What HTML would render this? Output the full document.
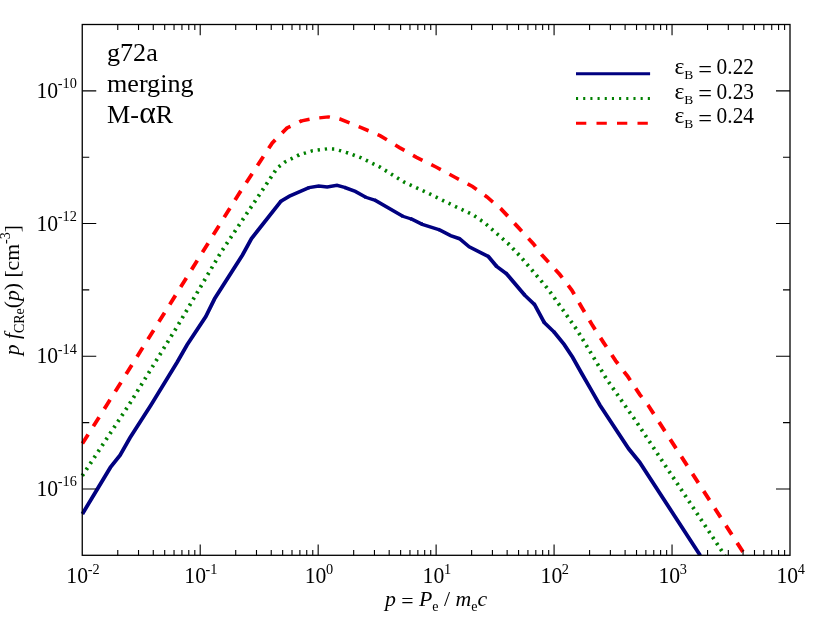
<!DOCTYPE html>
<html><head><meta charset="utf-8"><title>plot</title>
<style>
html,body{margin:0;padding:0;background:#fff;}
svg{display:block;opacity:0.999;will-change:transform;font-family:"Liberation Serif",serif;}
text{fill:#000;}
</style></head><body>
<svg width="822" height="617" viewBox="0 0 822 617">
<rect width="822" height="617" fill="#fff"/>
<defs><clipPath id="c"><rect x="74.25" y="24.5" width="715.75" height="531.1999999999999"/></clipPath></defs>
<g clip-path="url(#c)" fill="none"><g stroke="#000080" stroke-linejoin="miter" stroke-linecap="butt"><path d="M82.40,513.90 L110.40,467.40 L120.10,455.20 L130.00,437.80 L151.00,405.00 L177.30,362.00 L187.00,345.00 L205.80,316.50 L214.60,298.80 L242.50,255.00 L251.50,238.60 L281.00,201.10" stroke-width="3.8"/><path d="M280.38,201.89 L281.00,201.10 L289.50,196.20 L309.00,187.70" stroke-width="3.6"/><path d="M308.08,188.10 L309.00,187.70 L318.70,186.00 L327.20,187.00 L337.00,185.30 L345.50,187.70" stroke-width="3.4"/><path d="M344.54,187.43 L345.50,187.70 L355.30,191.40 L365.80,197.30" stroke-width="3.6"/><path d="M364.93,196.81 L365.80,197.30 L375.40,200.40" stroke-width="3.4"/><path d="M374.45,200.09 L375.40,200.40 L402.80,216.30" stroke-width="3.6"/><path d="M401.94,215.80 L402.80,216.30 L411.30,219.00" stroke-width="3.4"/><path d="M410.35,218.70 L411.30,219.00 L422.30,224.30" stroke-width="3.6"/><path d="M421.40,223.87 L422.30,224.30 L439.60,229.80" stroke-width="3.4"/><path d="M438.65,229.50 L439.60,229.80 L450.60,235.70 L459.50,238.70 L469.20,246.80 L488.60,256.70" stroke-width="3.6"/><path d="M487.71,256.25 L488.60,256.70 L496.70,266.50" stroke-width="3.8"/><path d="M496.06,265.73 L496.70,266.50 L506.50,273.70" stroke-width="3.6"/><path d="M505.69,273.11 L506.50,273.70 L524.80,295.30" stroke-width="3.8"/><path d="M524.15,294.54 L524.80,295.30 L534.60,304.60" stroke-width="3.6"/><path d="M533.87,303.91 L534.60,304.60 L544.30,322.60" stroke-width="3.8"/><path d="M543.83,321.72 L544.30,322.60 L554.30,332.20" stroke-width="3.6"/><path d="M553.58,331.51 L554.30,332.20 L564.10,344.40 L572.60,357.20 L581.30,372.80 L590.90,389.40 L599.80,405.00 L628.70,448.80 L639.60,462.20 L700.30,555.50" stroke-width="3.8"/></g><g stroke="#008000" stroke-linejoin="miter" stroke-linecap="butt" stroke-dasharray="2.3 4.88"><path d="M82.30,475.80 L128.90,405.00 L176.90,327.00 L221.10,252.00 L277.00,168.30" stroke-width="3.8" stroke-dashoffset="0.00"/><path d="M276.44,169.13 L277.00,168.30 L284.60,162.20 L299.20,154.90" stroke-width="3.6" stroke-dashoffset="4.05"/><path d="M298.31,155.35 L299.20,154.90 L312.60,150.70 L327.20,148.80 L334.50,149.00 L347.90,152.90" stroke-width="3.4" stroke-dashoffset="1.40"/><path d="M346.94,152.62 L347.90,152.90 L361.30,157.90 L380.00,167.10 L404.30,182.20 L428.70,193.50 L453.00,205.30 L472.50,214.60 L484.60,222.80 L496.80,233.60 L509.00,244.40" stroke-width="3.6" stroke-dashoffset="1.16"/><path d="M508.25,243.74 L509.00,244.40 L519.50,255.50 L533.40,271.70 L548.00,289.00 L562.60,309.50 L577.30,330.40 L592.00,354.80 L606.60,379.10 L624.60,405.00 L636.20,421.50 L678.50,485.50 L724.80,555.50" stroke-width="3.8" stroke-dashoffset="0.95"/></g><g stroke="#ff0000" stroke-linejoin="miter" stroke-linecap="butt" stroke-dasharray="10.7 9.84"><path d="M82.40,443.60 L106.80,405.00 L199.50,257.00 L237.90,195.40 L272.30,142.90 L287.00,128.00" stroke-width="3.8" stroke-dashoffset="0.00"/><path d="M286.30,128.71 L287.00,128.00 L301.70,120.80" stroke-width="3.6" stroke-dashoffset="5.87"/><path d="M300.80,121.24 L301.70,120.80 L313.80,118.40 L328.40,116.90 L340.60,119.30" stroke-width="3.4" stroke-dashoffset="1.69"/><path d="M339.62,119.11 L340.60,119.30 L360.00,127.10 L380.00,135.60 L399.50,147.60 L416.50,157.30 L436.00,167.00 L455.40,177.50 L472.50,186.50 L487.00,197.00 L501.70,209.60" stroke-width="3.6" stroke-dashoffset="0.06"/><path d="M500.94,208.95 L501.70,209.60 L518.70,227.90 L533.30,243.70 L542.00,255.00 L559.80,274.50 L571.90,290.30 L581.70,307.30 L592.60,325.60 L603.60,342.60 L615.70,360.80 L627.90,376.70 L640.00,394.90 L648.00,405.00 L745.30,555.50" stroke-width="3.8" stroke-dashoffset="0.74"/></g></g>

<path d="M117.76,555.3 v-5.4 M117.76,24.5 v5.4 M138.53,555.3 v-5.4 M138.53,24.5 v5.4 M153.27,555.3 v-5.4 M153.27,24.5 v5.4 M164.70,555.3 v-5.4 M164.70,24.5 v5.4 M174.04,555.3 v-5.4 M174.04,24.5 v5.4 M181.94,555.3 v-5.4 M181.94,24.5 v5.4 M188.78,555.3 v-5.4 M188.78,24.5 v5.4 M194.81,555.3 v-5.4 M194.81,24.5 v5.4 M200.21,555.3 v-10.7 M200.21,24.5 v10.7 M235.72,555.3 v-5.4 M235.72,24.5 v5.4 M256.49,555.3 v-5.4 M256.49,24.5 v5.4 M271.23,555.3 v-5.4 M271.23,24.5 v5.4 M282.66,555.3 v-5.4 M282.66,24.5 v5.4 M292.00,555.3 v-5.4 M292.00,24.5 v5.4 M299.89,555.3 v-5.4 M299.89,24.5 v5.4 M306.74,555.3 v-5.4 M306.74,24.5 v5.4 M312.77,555.3 v-5.4 M312.77,24.5 v5.4 M318.17,555.3 v-10.7 M318.17,24.5 v10.7 M353.68,555.3 v-5.4 M353.68,24.5 v5.4 M374.45,555.3 v-5.4 M374.45,24.5 v5.4 M389.18,555.3 v-5.4 M389.18,24.5 v5.4 M400.62,555.3 v-5.4 M400.62,24.5 v5.4 M409.96,555.3 v-5.4 M409.96,24.5 v5.4 M417.85,555.3 v-5.4 M417.85,24.5 v5.4 M424.69,555.3 v-5.4 M424.69,24.5 v5.4 M430.73,555.3 v-5.4 M430.73,24.5 v5.4 M436.12,555.3 v-10.7 M436.12,24.5 v10.7 M471.63,555.3 v-5.4 M471.63,24.5 v5.4 M492.41,555.3 v-5.4 M492.41,24.5 v5.4 M507.14,555.3 v-5.4 M507.14,24.5 v5.4 M518.57,555.3 v-5.4 M518.57,24.5 v5.4 M527.91,555.3 v-5.4 M527.91,24.5 v5.4 M535.81,555.3 v-5.4 M535.81,24.5 v5.4 M542.65,555.3 v-5.4 M542.65,24.5 v5.4 M548.69,555.3 v-5.4 M548.69,24.5 v5.4 M554.08,555.3 v-10.7 M554.08,24.5 v10.7 M589.59,555.3 v-5.4 M589.59,24.5 v5.4 M610.36,555.3 v-5.4 M610.36,24.5 v5.4 M625.10,555.3 v-5.4 M625.10,24.5 v5.4 M636.53,555.3 v-5.4 M636.53,24.5 v5.4 M645.87,555.3 v-5.4 M645.87,24.5 v5.4 M653.77,555.3 v-5.4 M653.77,24.5 v5.4 M660.61,555.3 v-5.4 M660.61,24.5 v5.4 M666.64,555.3 v-5.4 M666.64,24.5 v5.4 M672.04,555.3 v-10.7 M672.04,24.5 v10.7 M707.55,555.3 v-5.4 M707.55,24.5 v5.4 M728.32,555.3 v-5.4 M728.32,24.5 v5.4 M743.06,555.3 v-5.4 M743.06,24.5 v5.4 M754.49,555.3 v-5.4 M754.49,24.5 v5.4 M763.83,555.3 v-5.4 M763.83,24.5 v5.4 M771.73,555.3 v-5.4 M771.73,24.5 v5.4 M778.57,555.3 v-5.4 M778.57,24.5 v5.4 M784.60,555.3 v-5.4 M784.60,24.5 v5.4 M82.25,488.95 h14 M790.0,488.95 h-14 M82.25,422.60 h7 M790.0,422.60 h-7 M82.25,356.25 h14 M790.0,356.25 h-14 M82.25,289.90 h7 M790.0,289.90 h-7 M82.25,223.55 h14 M790.0,223.55 h-14 M82.25,157.20 h7 M790.0,157.20 h-7 M82.25,90.85 h14 M790.0,90.85 h-14" stroke="#000" stroke-width="1.1" fill="none"/>
<rect x="82.25" y="24.5" width="707.75" height="530.8" fill="none" stroke="#000" stroke-width="1.3"/>
<text transform="translate(66.34,583.30) scale(0.92,1)" font-size="23.6">10</text><text x="87.64" y="573.60" font-size="14.3">-2</text>
<text transform="translate(184.30,583.30) scale(0.92,1)" font-size="23.6">10</text><text x="205.60" y="573.60" font-size="14.3">-1</text>
<text transform="translate(304.64,583.30) scale(0.92,1)" font-size="23.6">10</text><text x="325.94" y="573.60" font-size="14.3">0</text>
<text transform="translate(422.60,583.30) scale(0.92,1)" font-size="23.6">10</text><text x="443.90" y="573.60" font-size="14.3">1</text>
<text transform="translate(540.56,583.30) scale(0.92,1)" font-size="23.6">10</text><text x="561.86" y="573.60" font-size="14.3">2</text>
<text transform="translate(658.52,583.30) scale(0.92,1)" font-size="23.6">10</text><text x="679.82" y="573.60" font-size="14.3">3</text>
<text transform="translate(776.48,583.30) scale(0.92,1)" font-size="23.6">10</text><text x="797.77" y="573.60" font-size="14.3">4</text>
<text transform="translate(36.44,97.95) scale(0.92,1)" font-size="23.6">10</text><text x="57.74" y="88.25" font-size="14.3">-10</text>
<text transform="translate(36.44,230.65) scale(0.92,1)" font-size="23.6">10</text><text x="57.74" y="220.95" font-size="14.3">-12</text>
<text transform="translate(36.44,363.35) scale(0.92,1)" font-size="23.6">10</text><text x="57.74" y="353.65" font-size="14.3">-14</text>
<text transform="translate(36.44,496.05) scale(0.92,1)" font-size="23.6">10</text><text x="57.74" y="486.35" font-size="14.3">-16</text>
<text x="107" y="61.2" font-size="26.1">g72a</text>
<text x="107" y="92.3" font-size="26.1">merging</text>
<text x="107" y="123.4" font-size="26.1">M-<tspan font-size="31.5" dx="0.3">α</tspan><tspan dx="0">R</tspan></text>
<g fill="none"><path d="M576.0,73.8 H650.1" stroke="#000080" stroke-width="3.0"/><path d="M576.0,98.45 H650.5" stroke="#008000" stroke-width="2.9" stroke-dasharray="2.1 5.08"/><path d="M576.0,123.3 H650.5" stroke="#ff0000" stroke-width="3.1" stroke-dasharray="10.3 10.2"/></g>
<text x="674.6" y="74.2" font-size="23.6">ε</text><text x="684.2" y="79.1" font-size="13.5">B</text><text x="698.3" y="77.6" font-size="24.4">=</text><text transform="translate(716.6,74.2) scale(0.926,1)" font-size="23.1">0.22</text>
<text x="674.6" y="98.8" font-size="23.6">ε</text><text x="684.2" y="103.7" font-size="13.5">B</text><text x="698.3" y="102.2" font-size="24.4">=</text><text transform="translate(716.6,98.8) scale(0.926,1)" font-size="23.1">0.23</text>
<text x="674.6" y="123.3" font-size="23.6">ε</text><text x="684.2" y="128.2" font-size="13.5">B</text><text x="698.3" y="126.7" font-size="24.4">=</text><text transform="translate(716.6,123.3) scale(0.926,1)" font-size="23.1">0.24</text>
<text x="384.9" y="605.7" font-size="21.8"><tspan font-style="italic">p</tspan> <tspan dy="2.3">=</tspan><tspan dy="-2.3"> </tspan><tspan font-style="italic">P</tspan><tspan dy="5" font-size="14">e</tspan><tspan dy="-5"> / </tspan><tspan font-style="italic">m</tspan><tspan dy="5" font-size="14">e</tspan><tspan dy="-5" font-style="italic">c</tspan></text>
<text transform="translate(19.4,355.3) rotate(-90)" font-size="21.6"><tspan font-style="italic">p f</tspan><tspan dy="5" font-size="14">CRe</tspan><tspan dy="-5">(</tspan><tspan font-style="italic">p</tspan>) [cm<tspan dy="-9.5" font-size="14">-3</tspan><tspan dy="9.5">]</tspan></text>
</svg></body></html>
